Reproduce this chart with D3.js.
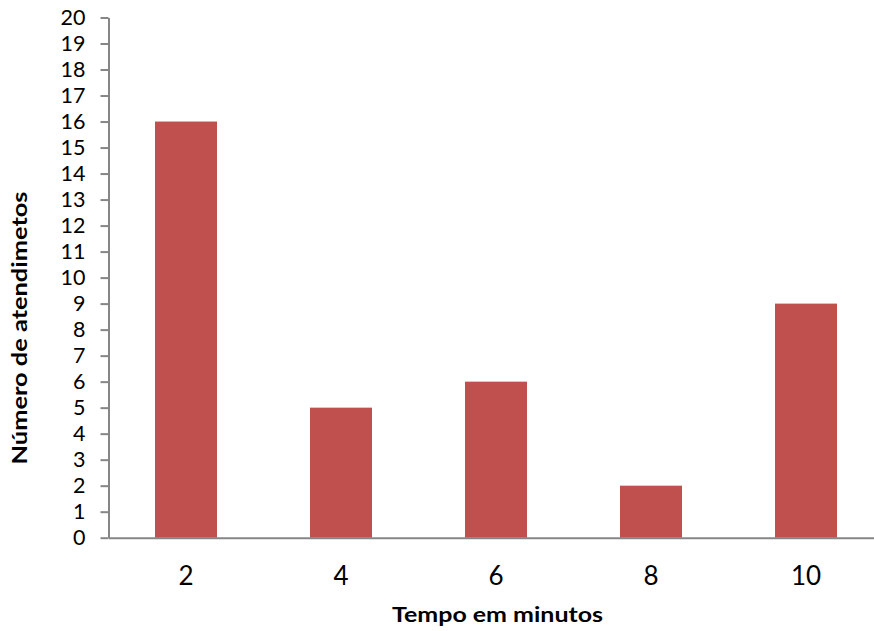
<!DOCTYPE html>
<html>
<head>
<meta charset="utf-8">
<script src="https://cdn.jsdelivr.net/npm/d3@7"></script>
<style>
  html, body { margin: 0; padding: 0; background: #fff; }
  svg { display: block; }
  text { font-family: Lato, "Open Sans", sans-serif; fill: #000; }
</style>
</head>
<body>
<svg id="chart" width="874" height="631"></svg>
<script>
// Tempo de atendimento (minutos) e número de atendimentos
const categories = ["2", "4", "6", "8", "10"];
const values = [16, 5, 6, 2, 9];
const yTicks = d3.range(0, 21);
const xTitle = "Tempo em minutos";
const yTitle = "Número de atendimetos";

const svg = d3.select("#chart");
const plotLeft = 108.5, plotRight = 883.5, plotTop = 17.5, plotBottom = 537.7;

const x = d3.scaleBand().domain(categories).range([plotLeft, plotRight]).paddingInner(0.6).paddingOuter(0.3);
const y = d3.scaleLinear().domain([0, 20]).range([plotBottom, plotTop]);

// bars
svg.append("g").selectAll("rect")
  .data(values)
  .join("rect")
  .attr("x", (d, i) => x(categories[i]))
  .attr("width", x.bandwidth())
  .attr("y", d => y(d))
  .attr("height", d => y(0) - y(d))
  .attr("fill", "#C0504D");

// y axis
const yAxis = svg.append("g")
  .attr("transform", `translate(${plotLeft},0)`)
  .call(d3.axisLeft(y).tickValues(yTicks).tickSize(8).tickPadding(15).tickSizeOuter(0));
yAxis.select(".domain").attr("stroke", "#868686").attr("stroke-width", 2);
yAxis.selectAll(".tick line").attr("stroke", "#868686").attr("stroke-width", 2);
yAxis.selectAll(".tick text").attr("font-size", 21.5).attr("font-family", "Lato, sans-serif").attr("fill", "#000");

// x axis
const xAxis = svg.append("g")
  .attr("transform", `translate(0,${plotBottom})`)
  .call(d3.axisBottom(x).tickSize(0).tickPadding(29).tickSizeOuter(0));
xAxis.select(".domain").attr("stroke", "#868686").attr("stroke-width", 2);
xAxis.selectAll(".tick text").attr("font-size", 26).attr("font-family", "Lato, sans-serif").attr("fill", "#000");

// titles
svg.append("text")
  .attr("x", 497.5).attr("y", 622)
  .attr("text-anchor", "middle")
  .attr("font-size", 20).attr("font-weight", "bold")
  .attr("textLength", 211).attr("lengthAdjust", "spacingAndGlyphs")
  .text(xTitle);

svg.append("text")
  .attr("transform", "translate(27,328) rotate(-90)")
  .attr("text-anchor", "middle")
  .attr("font-size", 20).attr("font-weight", "bold")
  .attr("textLength", 273).attr("lengthAdjust", "spacingAndGlyphs")
  .text(yTitle);
</script>
</body>
</html>
